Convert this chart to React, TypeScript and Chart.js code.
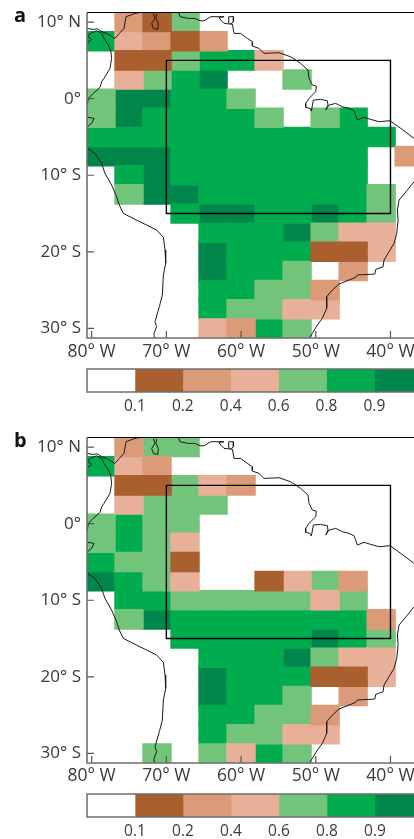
import React, { useEffect, useRef } from "react";
import { Chart, registerables } from "chart.js";

Chart.register(...registerables);

const FONT = '"Open Sans", sans-serif';
const INK = "#3a3a3a";

const lons = [-78.75, -75, -71.25, -67.5, -63.75, -60, -56.25, -52.5, -48.75, -45, -41.25, -37.5];
const lats = [10, 7.5, 5, 2.5, 0, -2.5, -5, -7.5, -10, -12.5, -15, -17.5, -20, -22.5, -25, -27.5, -30];

const xTicks = [-80, -70, -60, -50, -40];
const yTicks = [10, 0, -10, -20, -30];
const legendLabels = ["0.1", "0.2", "0.4", "0.6", "0.8", "0.9"];
const classColors = ["#ffffff", "#a9602e", "#dc9b78", "#e8b098", "#72c47a", "#00ac4e", "#00854a"];

// Probability class per grid cell: 0 blank, 1 <0.2, 2 <0.4, 3 <0.6, 4 <0.8, 5 <0.9, 6 >0.9
const classesA = [
  [0, 2, 1, 4, 0, 0, 0, 0, 0, 0, 0, 0],
  [5, 3, 2, 1, 2, 0, 0, 0, 0, 0, 0, 0],
  [0, 1, 1, 4, 5, 5, 3, 0, 0, 0, 0, 0],
  [0, 3, 4, 5, 6, 0, 0, 4, 0, 0, 0, 0],
  [4, 6, 6, 5, 5, 4, 0, 0, 0, 0, 0, 0],
  [4, 6, 5, 5, 5, 5, 4, 0, 4, 5, 0, 0],
  [5, 5, 5, 5, 5, 5, 5, 5, 5, 5, 5, 0],
  [6, 6, 6, 5, 5, 5, 5, 5, 5, 5, 0, 2],
  [0, 5, 6, 5, 5, 5, 5, 5, 5, 5, 0, 0],
  [0, 4, 6, 6, 5, 5, 5, 5, 5, 5, 4, 0],
  [0, 0, 0, 5, 6, 6, 5, 5, 6, 5, 4, 0],
  [0, 0, 0, 0, 5, 5, 5, 6, 4, 3, 3, 0],
  [0, 0, 0, 0, 6, 5, 5, 5, 1, 1, 3, 0],
  [0, 0, 0, 0, 6, 5, 5, 4, 0, 2, 0, 0],
  [0, 0, 0, 0, 5, 5, 4, 4, 2, 0, 0, 0],
  [0, 0, 0, 0, 5, 4, 4, 3, 3, 0, 0, 0],
  [0, 0, 0, 0, 3, 2, 5, 4, 0, 0, 0, 0],
];

const classesB = [
  [0, 2, 4, 4, 0, 0, 0, 0, 0, 0, 0, 0],
  [5, 3, 2, 0, 0, 0, 0, 0, 0, 0, 0, 0],
  [0, 1, 1, 4, 3, 2, 0, 0, 0, 0, 0, 0],
  [0, 3, 4, 4, 4, 0, 0, 0, 0, 0, 0, 0],
  [4, 5, 4, 4, 0, 0, 0, 0, 0, 0, 0, 0],
  [4, 5, 4, 3, 0, 0, 0, 0, 0, 0, 0, 0],
  [5, 4, 4, 1, 0, 0, 0, 0, 0, 0, 0, 0],
  [6, 5, 4, 3, 0, 0, 1, 3, 4, 2, 0, 0],
  [0, 5, 5, 4, 4, 4, 4, 4, 3, 4, 0, 0],
  [0, 4, 6, 5, 5, 5, 5, 5, 5, 5, 2, 0],
  [0, 0, 0, 5, 5, 5, 5, 5, 6, 5, 4, 0],
  [0, 0, 0, 0, 5, 5, 5, 6, 4, 3, 3, 0],
  [0, 0, 0, 0, 6, 5, 5, 5, 1, 1, 3, 0],
  [0, 0, 0, 0, 6, 5, 5, 4, 0, 2, 0, 0],
  [0, 0, 0, 0, 5, 5, 4, 4, 2, 0, 0, 0],
  [0, 0, 0, 0, 5, 4, 4, 3, 3, 0, 0, 0],
  [0, 0, 4, 0, 4, 3, 5, 4, 0, 0, 0, 0],
];

const boxLon = [-70, -40, -40, -70, -70];
const boxLat = [5, 5, -15, -15, 5];

const caribbeanLon = [-80.63, -79.78, -79.25, -78.66, -78.0, -76.88, -76.3, -75.67, -75.4, -74.2, -73.53];
const caribbeanLat = [9.17, 9.04, 9.13, 8.74, 8.52, 7.87, 8.52, 9.17, 10.7, 11.13, 11.26];

const pacificNorthLon = [-80.58, -80.0, -80.58, -80.14, -79.33, -78.66, -78.35, -77.77, -77.46, -77.33, -77.55, -78.35, -78.66, -78.89, -79.78, -80.45, -80.58];
const pacificNorthLat = [7.3, 7.74, 8.17, 8.52, 8.87, 8.52, 7.87, 7.0, 6.34, 5.26, 3.95, 2.65, 2.21, 1.47, 0.69, 0.03, -0.84];

const guayaquilLon = [-80.63, -80.14, -79.69, -80.0, -80.58];
const guayaquilLat = [-2.43, -2.49, -2.58, -3.23, -3.66];

const pacificSouthLon = [-80.58, -79.56, -78.66, -78.22, -77.33, -76.66, -76.3, -75.76, -74.2, -72.64, -71.3, -70.4, -70.18, -70.09, -70.4, -70.54, -70.94, -71.52, -71.3, -71.66, -71.61];
const pacificSouthLat = [-6.49, -7.15, -8.46, -9.76, -11.28, -12.8, -13.89, -14.98, -15.76, -16.5, -17.16, -18.11, -19.76, -21.5, -23.03, -25.64, -27.16, -29.12, -29.77, -30.64, -31.21];

const maracaiboLon = [-71.74, -71.52, -71.97, -71.74, -71.16, -71.07, -71.39, -71.3];
const maracaiboLat = [11.13, 10.48, 9.83, 9.17, 9.04, 9.83, 10.48, 11.04];

const venezuelaLon = [-68.39, -68.17, -67.06, -66.16, -65.49, -64.96, -64.06, -62.95, -62.28, -62.95, -62.72, -62.28, -61.39, -61.17, -60.94, -60.05, -59.16, -58.49, -58.49, -57.6, -56.93, -54.92, -53.36, -52.02, -51.04, -50.9, -50.46, -49.92, -50.01, -50.9, -51.35, -51.35, -50.77, -50.59, -50.32, -49.34, -48.45, -48.36, -48.67, -48.23, -47.33, -46.44, -45.55, -44.88, -44.43, -43.54, -42.64, -41.53, -40.05, -38.62, -36.84];
const venezuelaLat = [11.26, 10.7, 10.48, 10.48, 10.17, 10.17, 10.7, 10.7, 10.7, 10.6, 10.26, 9.83, 9.74, 9.74, 8.52, 8.52, 7.87, 7.43, 6.87, 6.56, 5.91, 6.0, 5.47, 4.6, 3.73, 2.65, 1.78, 1.64, 0.91, 0.03, -0.62, -1.14, -1.27, -1.62, -0.18, -0.1, -0.27, -0.84, -1.49, -0.84, -0.62, -1.05, -1.27, -1.58, -2.79, -2.44, -2.71, -3.01, -2.88, -3.88, -5.19];

const trinidadLon = [-61.39, -61.74, -61.65, -61.03, -61.03, -61.39];
const trinidadLat = [9.74, 10.04, 10.7, 10.7, 10.04, 9.74];

const atlanticLon = [-36.84, -37.73, -38.85, -39.07, -38.98, -39.16, -39.52, -40.19, -40.86, -40.99, -41.97, -42.1, -44.43, -44.65, -45.55, -46.89, -47.78, -48.54, -48.54, -49.12, -49.79, -50.46, -50.82];
const atlanticLat = [-10.85, -11.93, -13.24, -14.54, -15.85, -17.59, -18.89, -19.98, -21.07, -21.94, -22.29, -22.9, -23.03, -23.33, -23.68, -24.2, -24.99, -25.86, -27.38, -28.69, -29.56, -30.64, -31.21];

const coastlines: [number[], number[]][] = [
  [caribbeanLon, caribbeanLat],
  [pacificNorthLon, pacificNorthLat],
  [guayaquilLon, guayaquilLat],
  [pacificSouthLon, pacificSouthLat],
  [maracaiboLon, maracaiboLat],
  [venezuelaLon, venezuelaLat],
  [trinidadLon, trinidadLat],
  [atlanticLon, atlanticLat],
];

const toPoints = (xs: number[], ys: number[]) => xs.map((x, i) => ({ x, y: ys[i] }));

function cellDatasets(classes: number[][]) {
  const out: any[] = [];
  for (let c = 1; c < classColors.length; c++) {
    const data: any[] = [];
    classes.forEach((row, r) =>
      row.forEach((v, i) => {
        if (v === c) data.push({ x: lons[i], y: [lats[r] - 1.25, lats[r] + 1.25] });
      })
    );
    out.push({
      type: "bar",
      data,
      backgroundColor: classColors[c],
      borderWidth: 0,
      inflateAmount: 0.7,
      grouped: false,
      barPercentage: 1,
      categoryPercentage: 1,
      order: 5,
    });
  }
  return out;
}

const mapFrame = {
  id: "mapFrame",
  afterDatasetsDraw(chart: any) {
    const { ctx, chartArea: a, scales } = chart;
    ctx.save();
    ctx.strokeStyle = "#555";
    ctx.lineWidth = 1.2;
    ctx.beginPath();
    for (const v of xTicks) {
      const x = scales.x.getPixelForValue(v);
      ctx.moveTo(x, a.bottom);
      ctx.lineTo(x, a.bottom - 7);
    }
    for (const v of yTicks) {
      const y = scales.y.getPixelForValue(v);
      ctx.moveTo(a.left, y);
      ctx.lineTo(a.left + 7, y);
    }
    ctx.stroke();
    ctx.strokeStyle = "#000";
    ctx.lineWidth = 1;
    ctx.beginPath();
    ctx.moveTo(a.left, a.top);
    ctx.lineTo(a.right, a.top);
    ctx.stroke();
    ctx.strokeStyle = "#6e6e6e";
    ctx.lineWidth = 1.6;
    ctx.beginPath();
    ctx.moveTo(a.left, a.top);
    ctx.lineTo(a.left, a.bottom);
    ctx.lineTo(a.right, a.bottom);
    ctx.stroke();
    ctx.restore();
  },
};

const legendFrame = {
  id: "legendFrame",
  afterDatasetsDraw(chart: any) {
    const { ctx, chartArea: a } = chart;
    ctx.save();
    ctx.strokeStyle = "#6e6e6e";
    ctx.lineWidth = 1.5;
    ctx.beginPath();
    ctx.moveTo(a.right, a.top);
    ctx.lineTo(a.left, a.top);
    ctx.lineTo(a.left, a.bottom);
    ctx.lineTo(a.right, a.bottom);
    ctx.stroke();
    ctx.restore();
  },
};

function MapPanel({ classes, top, labelPad }: { classes: number[][]; top: number; labelPad: number }) {
  const ref = useRef<HTMLCanvasElement>(null);
  useEffect(() => {
    const lineSets = coastlines.map(([xs, ys]) => ({
      type: "line",
      data: toPoints(xs, ys),
      borderColor: "#1a1a1a",
      borderWidth: 1,
      pointRadius: 0,
      tension: 0,
      fill: false,
      order: 2,
    }));
    const box = {
      type: "line",
      data: toPoints(boxLon, boxLat),
      borderColor: "#000",
      borderWidth: 1.4,
      pointRadius: 0,
      tension: 0,
      fill: false,
      order: 1,
    };
    const chart = new Chart(ref.current as HTMLCanvasElement, {
      type: "bar",
      data: { datasets: [...cellDatasets(classes), ...lineSets, box] as any },
      plugins: [mapFrame],
      options: {
        animation: false,
        responsive: false,
        devicePixelRatio: 1,
        layout: { padding: { top: 12.5, left: 0, right: 0, bottom: 0 } },
        plugins: { legend: { display: false }, tooltip: { enabled: false } },
        scales: {
          x: {
            type: "linear",
            offset: false,
            min: -80.625,
            max: -36.85,
            grid: { display: false, drawTicks: false },
            border: { display: false },
            afterBuildTicks: (s: any) => {
              s.ticks = xTicks.map((value) => ({ value }));
            },
            afterFit: (s: any) => {
              s.height = 27;
              s.paddingLeft = 0;
              s.paddingRight = 0;
            },
            ticks: {
              autoSkip: false,
              maxRotation: 0,
              padding: labelPad,
              color: INK,
              font: { family: FONT, size: 17.5 },
              callback: (v: any) => `${Math.abs(v)}° W`,
            },
          },
          y: {
            type: "linear",
            min: -31.25,
            max: 11.25,
            grid: { display: false, drawTicks: false },
            border: { display: false },
            afterBuildTicks: (s: any) => {
              s.ticks = yTicks.map((value) => ({ value }));
            },
            afterFit: (s: any) => {
              s.width = 87;
              s.paddingTop = 0;
              s.paddingBottom = 0;
            },
            ticks: {
              autoSkip: false,
              padding: 6,
              color: INK,
              font: { family: FONT, size: 17 },
              callback: (v: any) => (v === 0 ? "0°" : v > 0 ? `${v}° N` : `${-v}° S`),
            },
          },
        },
      } as any,
    });
    return () => chart.destroy();
  }, [classes, labelPad]);
  return (
    <canvas ref={ref} width={414} height={365} style={{ position: "absolute", left: 0, top, display: "block" }} />
  );
}

function LegendBar({ top, unit, pad }: { top: number; unit: number; pad: number }) {
  const ref = useRef<HTMLCanvasElement>(null);
  useEffect(() => {
    const chart = new Chart(ref.current as HTMLCanvasElement, {
      type: "bar",
      data: {
        datasets: classColors.map((color, i) => ({
          data: [{ x: i + 0.5, y: [0, 1] }],
          backgroundColor: color,
          borderWidth: 0,
          grouped: false,
          barPercentage: 1,
          categoryPercentage: 1,
        })) as any,
      },
      plugins: [legendFrame],
      options: {
        animation: false,
        responsive: false,
        devicePixelRatio: 1,
        layout: { padding: { top: 1, left: 87, right: 0, bottom: 0 } },
        plugins: { legend: { display: false }, tooltip: { enabled: false } },
        scales: {
          x: {
            type: "linear",
            offset: false,
            min: 0,
            max: 327 / unit,
            grid: { display: false, drawTicks: false },
            border: { display: false },
            afterBuildTicks: (s: any) => {
              s.ticks = legendLabels.map((_, i) => ({ value: i + 1 }));
            },
            afterFit: (s: any) => {
              s.height = 24;
              s.paddingLeft = 0;
              s.paddingRight = 0;
            },
            ticks: {
              autoSkip: false,
              maxRotation: 0,
              padding: pad,
              color: INK,
              font: { family: FONT, size: 15.5 },
              callback: (v: any) => legendLabels[Number(v) - 1],
            },
          },
          y: { type: "linear", min: 0, max: 1, display: false },
        },
      } as any,
    });
    return () => chart.destroy();
  }, [unit, pad]);
  return (
    <canvas ref={ref} width={414} height={48} style={{ position: "absolute", left: 0, top, display: "block" }} />
  );
}

const panelLabel = (top: number): React.CSSProperties => ({
  position: "absolute",
  left: 14,
  top,
  font: `700 20px ${FONT}`,
  lineHeight: "24px",
  color: "#111",
});

export default function App() {
  return (
    <div style={{ position: "absolute", left: 0, top: 0, width: 414, height: 839, overflow: "hidden", background: "#fff" }}>
      <MapPanel classes={classesA} top={0} labelPad={4} />
      <LegendBar top={368} unit={47.9} pad={5} />
      <MapPanel classes={classesB} top={425} labelPad={3} />
      <LegendBar top={793} unit={48} pad={5} />
      <div style={panelLabel(3)}>a</div>
      <div style={panelLabel(428)}>b</div>
    </div>
  );
}
